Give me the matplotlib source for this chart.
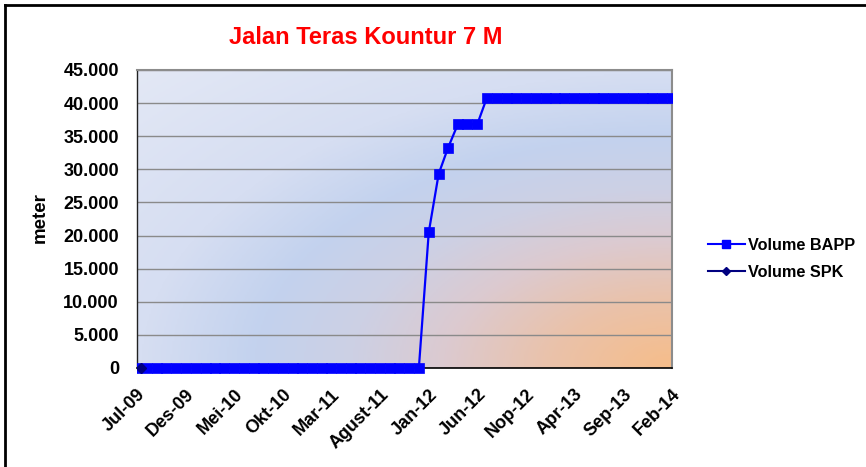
import numpy as np
import pandas as pd
import matplotlib
matplotlib.use("Agg")
import matplotlib.pyplot as plt
import matplotlib.dates as mdates
from matplotlib.colors import LinearSegmentedColormap
from matplotlib.lines import Line2D
from matplotlib.patches import Rectangle
from matplotlib.ticker import FuncFormatter

plt.rcParams['font.family'] = ['Liberation Sans', 'DejaVu Sans']

# data (meter), one point per month Jul-09 .. Feb-14
bapp_months = pd.date_range("2009-07-01", "2014-02-01", freq="MS")
volume_bapp = [0, 0, 0, 0, 0, 0, 0, 0, 0, 0,
               0, 0, 0, 0, 0, 0, 0, 0, 0, 0,
               0, 0, 0, 0, 0, 0, 0, 0, 0, 0,
               20500, 29300, 33200, 36800, 36800, 36800,
               40800, 40800, 40800, 40800, 40800, 40800, 40800,
               40800, 40800, 40800, 40800, 40800, 40800, 40800,
               40800, 40800, 40800, 40800, 40800, 40800]
spk_dates = pd.to_datetime(["2009-07-15"])
volume_spk = [0]

tick_dates = pd.date_range("2009-07-01", "2014-02-01", freq="5MS")
tick_labels = ["Jul-09", "Des-09", "Mei-10", "Okt-10", "Mar-11", "Agust-11",
               "Jan-12", "Jun-12", "Nop-12", "Apr-13", "Sep-13", "Feb-14"]

fig = plt.figure(figsize=(8.66, 4.67), dpi=100)
ax = fig.add_axes([137/866, 1-368/467, 535/866, 298/467])

# background gradient (from bottom-right corner)
nx, ny = 300, 200
u = np.linspace(1, 0, nx)[None, :]
v = np.linspace(1, 0, ny)[:, None]
r = np.sqrt(u**2 + v**2)
img = np.clip(r / 1.42, 0, 1)
cmap = LinearSegmentedColormap.from_list("bg", [
    (0.0, "#f6bd8a"), (0.16, "#eac2aa"), (0.30, "#dccad0"),
    (0.42, "#cdd0e4"), (0.55, "#c3d2ee"), (0.70, "#d6def2"), (1.0, "#e3e8f5")])
ax.imshow(img, cmap=cmap, vmin=0, vmax=1, extent=[0, 1, 0, 1],
          transform=ax.transAxes, aspect='auto', zorder=0, interpolation='bilinear')

# markers spill below the axis line but not past the left/right edges
clip = Rectangle((137/866, 1-380/467), 535/866, 320/467,
                 transform=fig.transFigure, visible=False)
fig.add_artist(clip)

l1, = ax.plot(bapp_months, volume_bapp, color='#0000ff', lw=1.6, marker='s',
              markersize=7.6, markeredgewidth=0.5, markeredgecolor='#0000ff',
              zorder=3, label='Volume BAPP')
l2, = ax.plot(spk_dates, volume_spk, color='#000080', lw=1.6, marker='D',
              markersize=5.5, zorder=4, label='Volume SPK')
for ln in (l1, l2):
    ln.set_clip_path(clip)

ax.set_xlim(pd.Timestamp("2009-07-01"), pd.Timestamp("2014-02-01"))
ax.set_ylim(0, 45000)
ax.set_yticks(np.arange(0, 45001, 5000))
ax.yaxis.set_major_formatter(FuncFormatter(lambda y, p: f"{int(y):,}".replace(",", ".")))
ax.set_xticks(mdates.date2num(tick_dates))
ax.set_xticklabels(tick_labels, rotation=45, ha='right', va='top',
                   rotation_mode='anchor', fontsize=13, fontweight='bold')
for t in ax.get_yticklabels():
    t.set_fontsize(13)
    t.set_fontweight('bold')
ax.tick_params(axis='both', length=0)
ax.tick_params(axis='y', pad=13)
ax.tick_params(axis='x', pad=13)

ax.set_axisbelow(True)
ax.yaxis.grid(True, color='#8a8a8a', lw=1.0)
ax.xaxis.grid(False)
for s in ['top', 'right']:
    ax.spines[s].set_color('#8c8c8c')
    ax.spines[s].set_linewidth(1.5)
ax.spines['left'].set_color('#222222')
ax.spines['bottom'].set_color('#000000')
ax.spines['left'].set_linewidth(1.0)
ax.spines['bottom'].set_linewidth(1.2)

fig.text(366/866, 1-38/467, "Jalan Teras Kountur 7 M", color='#ff0000',
         fontsize=17, fontweight='bold', ha='center', va='center')
fig.text(40/866, 1-218/467, "meter", rotation=90, fontsize=13.5,
         fontweight='bold', ha='center', va='center')

leg = fig.legend(handles=[
    Line2D([], [], color='#0000ff', lw=1.5, marker='s', markersize=6),
    Line2D([], [], color='#000080', lw=1.5, marker='D', markersize=4.5)],
    labels=['Volume BAPP', 'Volume SPK'],
    loc='center left', bbox_to_anchor=(693/866, 1-259/467), frameon=False,
    handlelength=2.3, handletextpad=0.2, labelspacing=0.75,
    prop={'weight': 'bold', 'size': 11.7})

# chart border (top and left visible)
fig.add_artist(Line2D([5/866, 5/866], [0, 1-5/467], color='black', lw=2,
                      transform=fig.transFigure))
fig.add_artist(Line2D([5/866, 1], [1-5/467, 1-5/467], color='black', lw=2,
                      transform=fig.transFigure))

fig.savefig("out.png", dpi=100)
